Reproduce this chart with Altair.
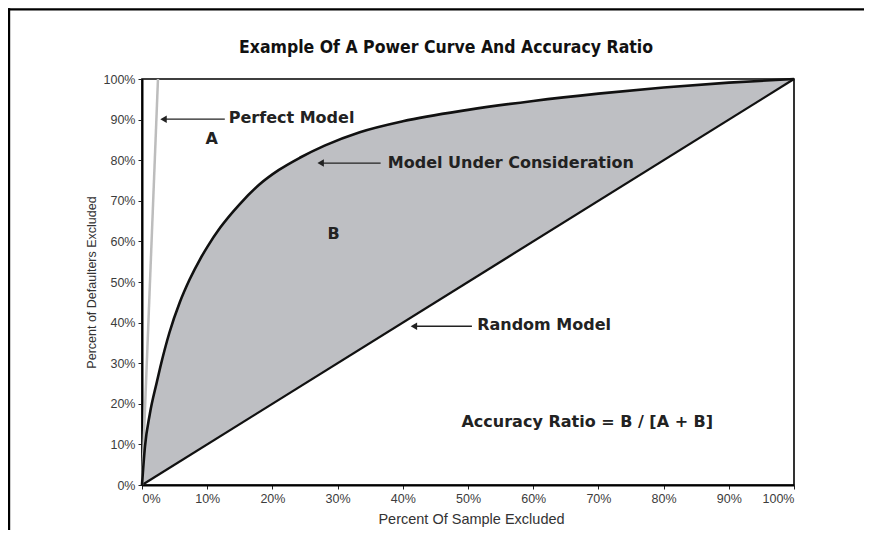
import altair as alt
import pandas as pd

# ---- data ----
curve_x = [0, 0.45, 1.2, 2.25, 2.8, 4.2, 5.8, 7.3, 8.9, 10, 12, 15, 18, 21,
           24.2, 28, 33.4, 40, 50, 60, 70, 80, 90, 100]
curve_y = [0, 9.4, 17.5, 25.2, 29.0, 37.5, 45.0, 50.6, 55.6, 58.6, 63.4, 69.2, 74.0, 77.6,
           80.6, 83.6, 86.9, 89.6, 92.4, 94.6, 96.4, 97.9, 99.1, 100]
random_x = [0, 100]
random_y = [0, 100]
perfect_x = [0, 2.45]
perfect_y = [0, 100]
ticks = [0, 10, 20, 30, 40, 50, 60, 70, 80, 90, 100]

labels_text = ["Perfect Model", "Model Under Consideration", "Random Model",
               "Accuracy Ratio = B / [A + B]", "A", "B"]
labels_x = [13.3, 37.7, 51.4, 49.0, 10.7, 29.4]
labels_y = [90.3, 79.3, 39.4, 15.6, 85.2, 61.8]
labels_align = ["left", "left", "left", "left", "center", "center"]

arrow_tip_x = [3.3, 27.4, 41.7]
arrow_end_x = [12.7, 36.6, 50.6]
arrow_y = [90.1, 79.3, 39.1]

TITLE = "Example Of A Power Curve And Accuracy Ratio"
COND = "DejaVu Sans Condensed, sans-serif"
SANS = "Liberation Sans, Arial, sans-serif"
BOLD = "DejaVu Sans, Verdana, sans-serif"

curve_df = pd.DataFrame({"x": curve_x, "y": curve_y})
random_df = pd.DataFrame({"x": random_x, "y": random_y})
perfect_df = pd.DataFrame({"x": perfect_x, "y": perfect_y})
labels_df = pd.DataFrame({"t": labels_text, "x": labels_x, "y": labels_y, "a": labels_align})
arrows_df = pd.DataFrame({"x": arrow_tip_x, "x2": arrow_end_x, "y": arrow_y})
one = pd.DataFrame({"k": [0]})

xs = alt.Scale(domain=[0, 100], nice=False, zero=False)
ys = alt.Scale(domain=[0, 100], nice=False, zero=False)

x_axis = alt.Axis(values=ticks, labelExpr="datum.value + '%'", title="Percent Of Sample Excluded",
                  titleX=329, titleY=34, titleBaseline="middle", titleAlign="center",
                  titleFontSize=14.5)
y_axis = alt.Axis(values=ticks, labelExpr="datum.value + '%'", title="Percent of Defaulters Excluded",
                  titleX=-51, titleY=203, titleBaseline="middle", titleAlign="center", titleAngle=-90,
                  titleFontSize=12.5)

X = alt.X("x:Q", scale=xs, axis=x_axis)
Y = alt.Y("y:Q", scale=ys, axis=y_axis)

area = alt.Chart(curve_df).transform_calculate(d="datum.x").mark_area(
    color="#bebfc3", interpolate="monotone", opacity=1
).encode(x=X, y=Y, y2="d:Q")

diag = alt.Chart(random_df).mark_line(color="#111111", strokeWidth=2.2).encode(x=X, y=Y)

perfect = alt.Chart(perfect_df).mark_line(color="#bdbdbd", strokeWidth=2.5).encode(x=X, y=Y)

curve = alt.Chart(curve_df).mark_line(color="#111111", strokeWidth=2.6, interpolate="monotone").encode(x=X, y=Y)

shafts = alt.Chart(arrows_df).mark_rule(color="#222222", strokeWidth=1.3).encode(
    x=alt.X("x:Q", scale=xs), x2="x2:Q", y=alt.Y("y:Q", scale=ys))
heads = alt.Chart(arrows_df).mark_point(shape="triangle-left", filled=True, color="#222222",
                                        size=55, opacity=1).encode(
    x=alt.X("x:Q", scale=xs), y=alt.Y("y:Q", scale=ys))

texts_left = alt.Chart(labels_df).transform_filter("datum.a == 'left'").mark_text(
    font=BOLD, fontSize=16, fontWeight="bold", color="#222222", align="left", baseline="middle"
).encode(x=alt.X("x:Q", scale=xs), y=alt.Y("y:Q", scale=ys), text="t:N")
texts_center = alt.Chart(labels_df).transform_filter("datum.a == 'center'").mark_text(
    font=BOLD, fontSize=16, fontWeight="bold", color="#222222", align="center", baseline="middle"
).encode(x=alt.X("x:Q", scale=xs), y=alt.Y("y:Q", scale=ys), text="t:N")

title = alt.Chart(one).mark_text(
    font=COND, fontSize=17.5, fontWeight="bold", color="#111111", align="center", baseline="alphabetic"
).encode(x=alt.value(304), y=alt.value(-26), text=alt.value(TITLE))

frame_top = alt.Chart(one).mark_rule(color="#000000", strokeWidth=2.2).encode(
    x=alt.value(-135), x2=alt.value(740), y=alt.value(-69.7))
frame_left = alt.Chart(one).mark_rule(color="#000000", strokeWidth=2.4).encode(
    x=alt.value(-133), y=alt.value(-70.8), y2=alt.value(460))

chart = alt.layer(
    area, diag, perfect, curve, shafts, heads, texts_left, texts_center, title, frame_top, frame_left
).properties(
    width=652, height=406, autosize="none",
    padding={"left": 134, "top": 71, "right": 70, "bottom": 45}
).configure_view(
    stroke="#000000", strokeWidth=1.6
).configure_axis(
    grid=False, domainColor="#000000", domainWidth=2, tickColor="#222222", tickSize=4, tickWidth=1,
    labelFont=SANS, labelFontSize=12.5, labelColor="#3c3c3c", labelPadding=3,
    titleFont=SANS, titleFontWeight="normal", titleColor="#333333"
)

chart.save("out.html", embed_options={"renderer": "svg", "actions": False})
